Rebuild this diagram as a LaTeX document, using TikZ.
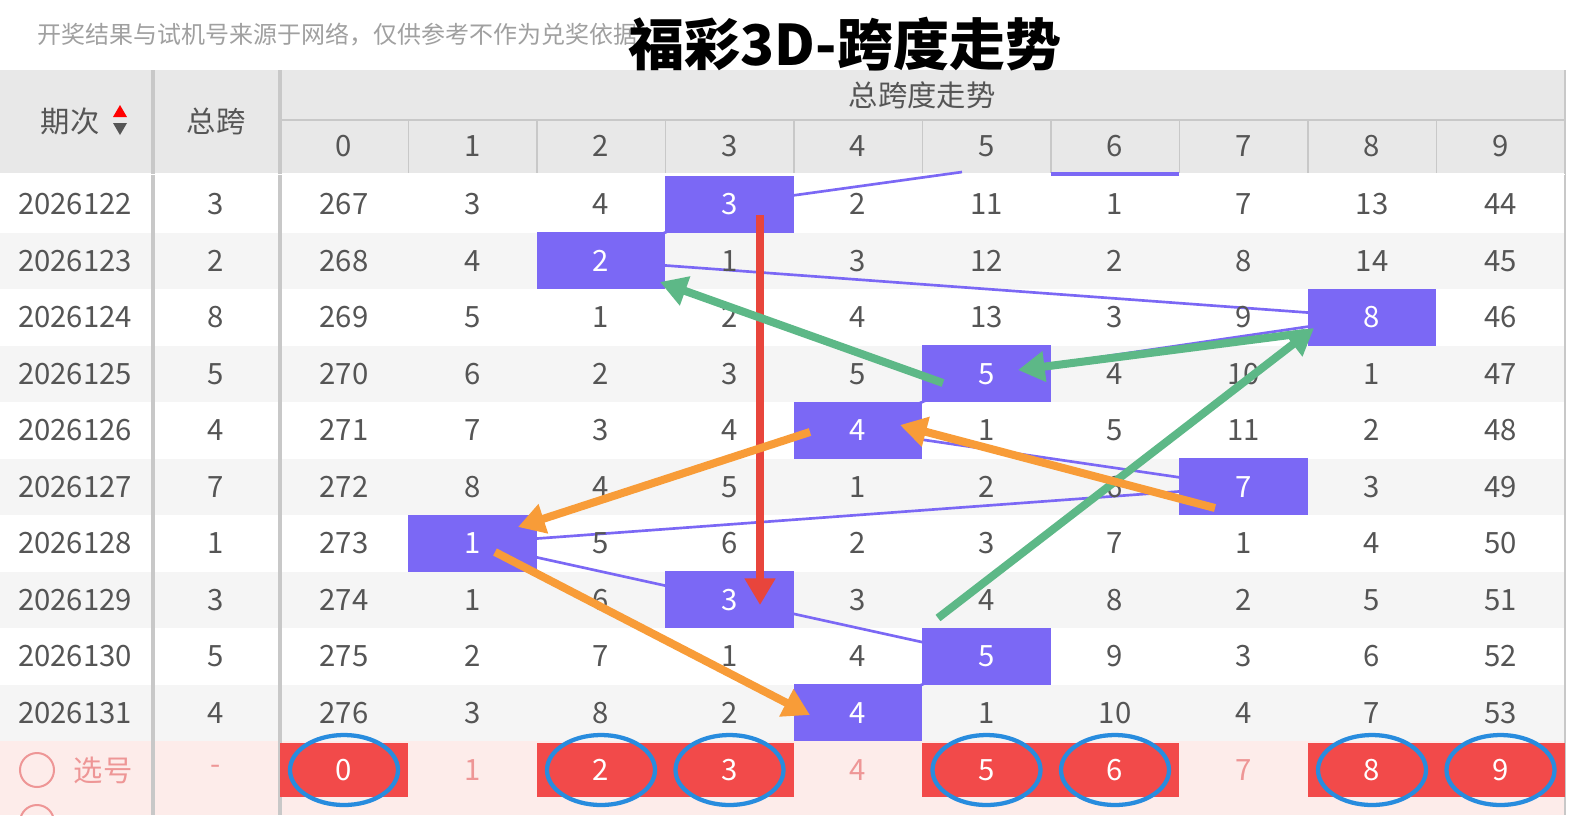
\documentclass[tikz,border=0pt]{standalone}
\usepackage{fontspec}
\setmainfont{Noto Sans CJK SC}
\usetikzlibrary{arrows.meta}
\definecolor{hdrgray}{RGB}{232,232,232}
\definecolor{rowgray}{RGB}{245,245,245}
\definecolor{txtgray}{RGB}{85,85,85}
\definecolor{linegray}{RGB}{200,200,200}
\definecolor{hitpurple}{RGB}{123,104,245}
\definecolor{selred}{RGB}{242,74,74}
\definecolor{selpink}{RGB}{253,236,234}
\definecolor{pinktxt}{RGB}{238,150,150}
\definecolor{ringblue}{RGB}{40,140,222}
\definecolor{arrgreen}{RGB}{93,184,135}
\definecolor{arrorange}{RGB}{248,156,56}
\definecolor{arrred}{RGB}{232,69,60}
\tikzset{every picture/.style={line width=0.75pt},
  cell/.style={minimum width=96.4pt,minimum height=42.4pt,inner sep=0pt,text=txtgray,font=\fontsize{22}{22}\selectfont},
  hitcell/.style={cell,fill=hitpurple,text=white},
  selcell/.style={cell,minimum height=41pt,fill=selred,text=white},
  ring/.style={draw=ringblue,line width=3.2pt},
  fat/.style={line width=6pt,-{Triangle[length=20pt,width=22pt]}}}

\begin{document}
\begin{tikzpicture}[x=0.75pt,y=0.75pt,yscale=-1,xscale=1]
\useasboundingbox (0,0) rectangle (1573,815);
%backgrounds
\fill[white] (0,0) rectangle (1573,815);
\fill[hdrgray] (0,70) rectangle (1565,173);
\foreach \i in {1,3,5,7,9} \fill[rowgray] (0,176+56.5*\i) rectangle (1565,232.5+56.5*\i);
\fill[selpink] (0,741) rectangle (1565,815);
\draw[linegray,line width=1.5pt] (280,120) -- (1565,120);
\foreach \j in {1,...,9} \draw[linegray,line width=1pt] (280+128.5*\j,120) -- (280+128.5*\j,173);
\draw[linegray,line width=2.5pt] (153,70) -- (153,815) (280,70) -- (280,815);
\draw[linegray,line width=1.5pt] (1565,70) -- (1565,815);
\draw[line width=1pt,white] (0,174.5) -- (1565,174.5);
\fill[hitpurple] (1051,172) rectangle (1179,176);

%top texts
\node[anchor=west,text=linegray!80!black,font=\fontsize{18}{18}\selectfont] (note) at (33,35) {开奖结果与试机号来源于网络，仅供参考不作为兑奖依据};
\node[font=\fontsize{42}{42}\selectfont\bfseries] (title) at (845,44) {福彩3D-跨度走势};
\node[cell] (hqici) at (70,121) {期次};
\fill[red] (113,117) -- (120,105) -- (127,117) -- cycle;
\fill[txtgray] (113,123) -- (120,135) -- (127,123) -- cycle;
\node[cell] (hzong) at (216,121) {总跨};
\node[cell] (hzs) at (922,95) {总跨度走势};
\foreach \j in {0,...,9} \node[cell] (h\j) at (344+128.5*\j,146) {\j};

%hit coordinates
\foreach \hit [count=\i] in {3,2,8,5,4,7,1,3,5,4}
  \coordinate (p\i) at (344+128.5*\hit,204.25+56.5*\i-56.5);
\coordinate (p0) at (962,172);
\draw[hitpurple,line width=2pt] (p0) -- (p1) -- (p2) -- (p3) -- (p4) -- (p5) -- (p6) -- (p7) -- (p8) -- (p9) -- (p10);

%rows
\foreach \qi/\zk/\vals [count=\i] in {
  2026122/3/{267,3,4,3,2,11,1,7,13,44},
  2026123/2/{268,4,2,1,3,12,2,8,14,45},
  2026124/8/{269,5,1,2,4,13,3,9,8,46},
  2026125/5/{270,6,2,3,5,5,4,10,1,47},
  2026126/4/{271,7,3,4,4,1,5,11,2,48},
  2026127/7/{272,8,4,5,1,2,6,7,3,49},
  2026128/1/{273,1,5,6,2,3,7,1,4,50},
  2026129/3/{274,1,6,3,3,4,8,2,5,51},
  2026130/5/{275,2,7,1,4,5,9,3,6,52},
  2026131/4/{276,3,8,2,4,1,10,4,7,53}}{
  \node[cell] (q\i) at (75,204.25+56.5*\i-56.5) {\qi};
  \node[cell] (z\i) at (216,204.25+56.5*\i-56.5) {\zk};
  \foreach \v [count=\k from 0] in \vals {
    \ifnum\k=\zk
      \node[hitcell] (c\i-\k) at (344+128.5*\k,204.25+56.5*\i-56.5) {\v};
    \else
      \node[cell] (c\i-\k) at (344+128.5*\k,204.25+56.5*\i-56.5) {\v};
    \fi}
}

%select row
\draw[pinktxt,line width=1.5pt] (37,770) circle (17);
\draw[pinktxt,line width=1.5pt] (37,822) circle (17);
\node[cell,text=pinktxt] (xh) at (103,770) {选号};
\node[cell,text=pinktxt] (xd) at (216,770) {-};
\foreach \j in {0,...,9} {
  \ifnum\j=1 \node[cell,text=pinktxt] (s\j) at (344+128.5*\j,770) {\j};
  \else\ifnum\j=4 \node[cell,text=pinktxt] (s\j) at (344+128.5*\j,770) {\j};
  \else\ifnum\j=7 \node[cell,text=pinktxt] (s\j) at (344+128.5*\j,770) {\j};
  \else
    \node[selcell] (s\j) at (344+128.5*\j,770) {\j};
    \draw[ring] (s\j) ellipse (54 and 35);
  \fi\fi\fi}

%arrows
\coordinate (rA) at (760,215); \coordinate (rB) at (760,605);
\draw[fat,arrred] (rA) -- (rB);
\coordinate (gA) at (943,383); \coordinate (gB) at (660,282);
\draw[fat,arrgreen] (gA) -- (gB);
\coordinate (gC) at (1305,333); \coordinate (gD) at (1018,370);
\draw[fat,arrgreen] (gC) -- (gD);
\coordinate (gE) at (938,618); \coordinate (gF) at (1314,328);
\draw[fat,arrgreen] (gE) -- (gF);
\coordinate (oA) at (1215,508); \coordinate (oB) at (900,425);
\draw[fat,arrorange] (oA) -- (oB);
\coordinate (oC) at (810,432); \coordinate (oD) at (518,527);
\draw[fat,arrorange] (oC) -- (oD);
\coordinate (oE) at (495,552); \coordinate (oF) at (810,715);
\draw[fat,arrorange] (oE) -- (oF);

\end{tikzpicture}
\end{document}
